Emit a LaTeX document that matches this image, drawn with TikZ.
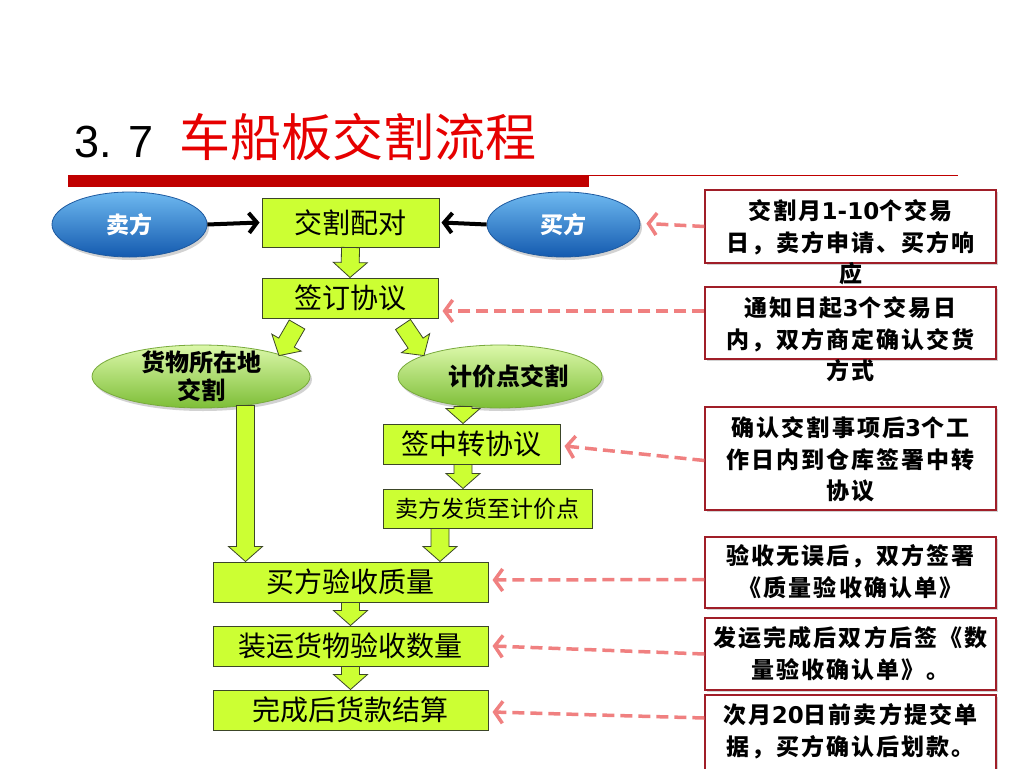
\documentclass[tikz,border=0pt]{standalone}
\usepackage{fontspec}
\setmainfont{Liberation Sans}
\newfontfamily\cjk{Noto Sans CJK SC}
\newfontfamily\notefont[LetterSpace=9]{Noto Sans CJK SC}
\newfontfamily\vfont{DejaVu Sans}
\usetikzlibrary{shapes.geometric,arrows.meta,calc,shadows}
\pgfdeclarelayer{bg}
\pgfsetlayers{bg,main}
\definecolor{boxgreen}{RGB}{204,255,51}
\definecolor{boxborder}{RGB}{60,70,40}
\definecolor{bluetop}{RGB}{110,185,240}
\definecolor{bluemid}{RGB}{40,130,215}
\definecolor{bluebot}{RGB}{20,90,175}
\definecolor{blueborder}{RGB}{30,90,160}
\definecolor{greentop}{RGB}{220,248,170}
\definecolor{greenmid}{RGB}{170,225,100}
\definecolor{greenbot}{RGB}{125,190,55}
\definecolor{greenborder}{RGB}{120,170,60}
\definecolor{notered}{RGB}{160,30,40}
\definecolor{pinkc}{RGB}{240,128,128}
\definecolor{barred}{RGB}{192,0,0}
\definecolor{titlered}{RGB}{230,0,0}
\definecolor{linepink}{RGB}{215,160,160}
\newcommand\barrow[2]{%
  \path (#1) coordinate (bas) (#2) coordinate (bae);
  \path ($(bae)!15pt!(bas)$) coordinate (bah);
  \draw[blockarrow] ($(bas)!9pt!90:(bae)$) -- ($(bah)!9pt!-90:(bas)$) --
    ($(bah)!17pt!-90:(bas)$) -- (bae) -- ($(bah)!17pt!90:(bas)$) --
    ($(bah)!9pt!90:(bas)$) -- ($(bas)!9pt!-90:(bae)$) -- cycle;}
\newcommand\num[1]{{\vfont\bfseries\fontsize{23}{31.5}\selectfont #1}}
\begin{document}
\begin{tikzpicture}[x=1pt,y=-1pt,
  flowbox/.style={draw=boxborder, line width=1pt, fill=boxgreen, inner sep=0,
    minimum height=40pt, font=\cjk\fontsize{28}{30}\selectfont},
  blockarrow/.style={draw=boxborder, line width=0.8pt, fill=boxgreen, line join=miter},
  blueell/.style={ellipse, draw=blueborder, line width=0.8pt, top color=bluetop,
    middle color=bluemid, bottom color=bluebot, text=white, inner sep=0,
    font=\cjk\bfseries\fontsize{23}{26}\selectfont,
    drop shadow={opacity=0.35, shadow xshift=2pt, shadow yshift=-3pt}},
  greenell/.style={ellipse, draw=greenborder, line width=0.8pt, top color=greentop,
    middle color=greenmid, bottom color=greenbot, inner sep=0,
    drop shadow={opacity=0.35, shadow xshift=2pt, shadow yshift=-3pt}},
  elltext/.style={inner sep=0, align=center, font=\cjk\bfseries\fontsize{24}{28}\selectfont},
  notebox/.style={draw=notered, line width=1.3pt, fill=white, minimum width=291pt,
    inner sep=0, drop shadow={opacity=0.35, shadow xshift=2pt, shadow yshift=-2pt}},
  notetext/.style={inner sep=0, align=center, anchor=north,
    font=\notefont\bfseries\fontsize{23}{31.5}\selectfont},
  notearrow/.style={draw=pinkc, line width=3.5pt, dash pattern=on 12pt off 6pt,
    -{Straight Barb[length=8pt,width=22pt]}},
  blackarrow/.style={draw=black, line width=4pt,
    -{Straight Barb[length=8pt,width=20pt]}}
]
\useasboundingbox (0,0) rectangle (1024,768);
\fill[white] (0,0) rectangle (1024,768);

% title
\node[anchor=base west, inner sep=0, font=\fontsize{45}{50}\selectfont] (numtitle) at (74,157) {3. 7};
\node[anchor=base west, inner sep=0, text=titlered, font=\cjk\fontsize{51}{55}\selectfont] (title) at (179,156) {车船板交割流程};
\fill[barred] (68,175) rectangle (589,187);
\draw[barred, line width=1pt] (589,175.5) -- (958,175.5);

\begin{pgfonlayer}{bg}
\draw[linepink, line width=0.8pt] (68,691) -- (1010,691);
\end{pgfonlayer}

% flow nodes
\node[blueell, minimum width=155pt, minimum height=65pt] (sell) at (129.5,224.5) {卖方};
\node[blueell, minimum width=153pt, minimum height=65pt] (buy) at (563.5,224.5) {买方};
\node[flowbox, minimum width=177pt, minimum height=49pt] (pair) at (350.5,222.5) {交割配对};
\node[flowbox, minimum width=176pt] (sign) at (350,298) {签订协议};
\node[greenell, minimum width=218pt, minimum height=63pt] (loc) at (201,376.5) {};
\node[elltext] (loct) at (loc) {货物所在地\\交割};
\node[greenell, minimum width=204pt, minimum height=63pt] (pt) at (500,376.5) {};
\node[elltext] (ptt) at ($(pt)+(8,0)$) {计价点交割};
\node[flowbox, minimum width=177pt] (zz) at (471.5,444) {签中转协议};
\node[flowbox, minimum width=209pt, minimum height=39pt, font=\cjk\fontsize{23}{25}\selectfont] (ship) at (487.5,508.5) {卖方发货至计价点};
\node[flowbox, minimum width=275pt] (qual) at (350.5,582) {买方验收质量};
\node[flowbox, minimum width=275pt] (qty) at (350.5,646) {装运货物验收数量};
\node[flowbox, minimum width=275pt] (pay) at (350.5,710) {完成后货款结算};

% black arrows
\draw[blackarrow] (sell.east) -- ($(pair.west)+(-2,0)$);
\draw[blackarrow] (buy.west) -- ($(pair.east)+(2,0)$);

% block arrows
\barrow{pair.south}{sign.north}
\barrow{$(sign.south)+(-53,6)$}{$(loc.north)+(78,11)$}
\barrow{$(sign.south)+(53,6)$}{$(pt.north)+(-76,11)$}
\barrow{$(pt.south)+(-37,-2)$}{$(zz.north)+(-8.5,0)$}
\barrow{$(zz.south)+(-8.5,0)$}{$(ship.north)+(-24.5,0)$}
\barrow{$(ship.south)+(-47.5,0)$}{$(qual.north)+(89.5,0)$}
\barrow{$(loc.south)+(44.5,-3)$}{$(qual.north)+(-105,0)$}
\barrow{qual.south}{qty.north}
\barrow{qty.south}{pay.north}

% note boxes
\node[notebox, minimum height=73pt] (n1) at (850.5,226.5) {};
\node[notetext] (t1) at ($(n1.north)+(0,10)$) {交割月\num{1-10}个交易\\日，卖方申请、买方响\\应};
\node[notebox, minimum height=72pt] (n2) at (850.5,323) {};
\node[notetext] (t2) at ($(n2.north)+(0,10)$) {通知日起\num{3}个交易日\\内，双方商定确认交货\\方式};
\node[notebox, minimum height=103pt] (n3) at (850.5,458.5) {};
\node[notetext] (t3) at ($(n3.north)+(0,10)$) {确认交割事项后\num{3}个工\\作日内到仓库签署中转\\协议};
\node[notebox, minimum height=71pt] (n4) at (850.5,572.5) {};
\node[notetext] (t4) at ($(n4.north)+(0,8)$) {验收无误后，双方签署\\《质量验收确认单》};
\node[notebox, minimum height=72pt] (n5) at (850.5,654) {};
\node[notetext] (t5) at ($(n5.north)+(0,9)$) {发运完成后双方后签《数\\量验收确认单》。};
\node[notebox, minimum height=80pt] (n6) at (850.5,735) {};
\node[notetext] (t6) at ($(n6.north)+(0,9)$) {次月\num{20}日前卖方提交单\\据，买方确认后划款。};

% dashed note arrows
\draw[notearrow] (n1.west) -- ($(buy.east)+(6,-1)$);
\draw[notearrow] ($(n2.west)+(0,-12)$) -- ($(sign.east)+(4,13)$);
\draw[notearrow] ($(n3.west)+(0,2)$) -- ($(zz.east)+(4,2)$);
\draw[notearrow] ($(n4.west)+(0,7)$) -- ($(qual.east)+(4,-2)$);
\draw[notearrow] (n5.west) -- ($(qty.east)+(4,0)$);
\draw[notearrow] ($(n6.west)+(0,-17)$) -- ($(pay.east)+(4,2)$);
\end{tikzpicture}
\end{document}
